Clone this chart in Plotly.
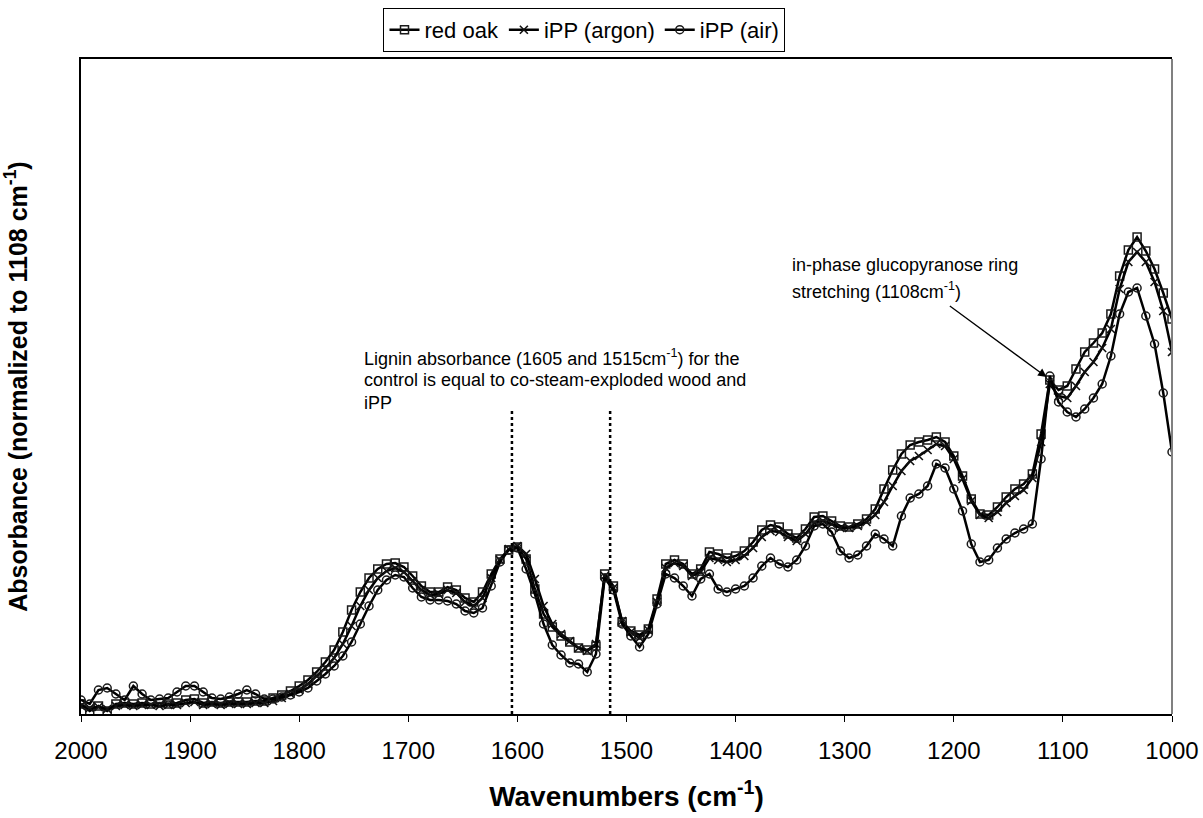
import plotly.graph_objects as go

# Wavenumbers (cm^-1), sampled every 8 cm^-1 from 2000 down to 1000
wavenumbers = list(range(2000, 999, -8))

# Relative absorbance (arbitrary units, normalized)
red_oak = [
    0.10, 0.03, 0.08, 0.03, 0.10, 0.11, 0.10, 0.11, 0.10, 0.11,
    0.10, 0.11, 0.14, 0.15, 0.11, 0.12, 0.11, 0.12, 0.12, 0.12,
    0.13, 0.13, 0.16, 0.19, 0.23, 0.28, 0.34, 0.42, 0.52, 0.64,
    0.82, 1.04, 1.22, 1.36, 1.45, 1.50, 1.51, 1.47, 1.38, 1.28,
    1.22, 1.22, 1.27, 1.24, 1.16, 1.12, 1.22, 1.40, 1.55, 1.64,
    1.67, 1.55, 1.25, 1.00, 0.87, 0.78, 0.72, 0.66, 0.64, 0.68,
    1.40, 1.28, 0.92, 0.83, 0.79, 0.85, 1.15, 1.50, 1.54, 1.50,
    1.40, 1.45, 1.62, 1.60, 1.56, 1.58, 1.63, 1.72, 1.84, 1.89,
    1.87, 1.80, 1.76, 1.85, 1.97, 1.98, 1.93, 1.88, 1.87, 1.90,
    1.95, 2.05, 2.25, 2.44, 2.60, 2.69, 2.72, 2.74, 2.77, 2.72,
    2.58, 2.38, 2.15, 2.00, 1.99, 2.07, 2.17, 2.25, 2.30, 2.40,
    2.80, 3.34, 3.24, 3.28, 3.45, 3.62, 3.71, 3.81, 4.00, 4.38,
    4.64, 4.77, 4.63, 4.45, 4.21, 3.95,
]

ipp_argon = [
    0.08, 0.06, 0.07, 0.05, 0.08, 0.09, 0.08, 0.09, 0.09, 0.08,
    0.09, 0.09, 0.11, 0.12, 0.09, 0.10, 0.09, 0.10, 0.10, 0.10,
    0.11, 0.11, 0.13, 0.16, 0.20, 0.24, 0.30, 0.38, 0.46, 0.56,
    0.70, 0.88, 1.08, 1.24, 1.36, 1.43, 1.46, 1.42, 1.33, 1.24,
    1.19, 1.20, 1.24, 1.21, 1.12, 1.08, 1.16, 1.36, 1.54, 1.65,
    1.68, 1.60, 1.35, 1.08, 0.90, 0.80, 0.73, 0.66, 0.63, 0.70,
    1.38, 1.26, 0.93, 0.82, 0.76, 0.84, 1.12, 1.46, 1.51, 1.48,
    1.38, 1.42, 1.56, 1.54, 1.52, 1.54, 1.58, 1.66, 1.77, 1.83,
    1.82, 1.77, 1.73, 1.80, 1.91, 1.93, 1.90, 1.86, 1.86, 1.88,
    1.92, 1.99, 2.12, 2.28, 2.43, 2.53, 2.58, 2.64, 2.70, 2.68,
    2.55, 2.35, 2.13, 1.99, 1.96, 2.02, 2.11, 2.18, 2.24, 2.36,
    2.72, 3.30, 3.18, 3.16, 3.28, 3.42, 3.52, 3.66, 3.85, 4.25,
    4.52, 4.62, 4.52, 4.32, 4.03, 3.62,
]

ipp_air = [
    0.14, 0.10, 0.24, 0.26, 0.20, 0.14, 0.28, 0.20, 0.14, 0.15,
    0.16, 0.22, 0.28, 0.28, 0.22, 0.16, 0.15, 0.17, 0.20, 0.24,
    0.20, 0.15, 0.15, 0.17, 0.19, 0.22, 0.26, 0.33, 0.40, 0.48,
    0.58, 0.72, 0.90, 1.08, 1.24, 1.34, 1.39, 1.37, 1.26, 1.17,
    1.14, 1.14, 1.13, 1.10, 1.03, 1.01, 1.06, 1.28, 1.52, 1.64,
    1.66, 1.45, 1.20, 0.90, 0.69, 0.59, 0.51, 0.50, 0.42, 0.60,
    1.36, 1.24, 0.90, 0.78, 0.67, 0.80, 1.10, 1.40, 1.36, 1.28,
    1.18, 1.35, 1.40, 1.25, 1.22, 1.25, 1.28, 1.36, 1.48, 1.56,
    1.50, 1.47, 1.54, 1.68, 1.88, 1.90, 1.82, 1.63, 1.56, 1.59,
    1.68, 1.80, 1.75, 1.68, 1.98, 2.16, 2.20, 2.28, 2.50, 2.46,
    2.25, 2.03, 1.70, 1.52, 1.54, 1.66, 1.75, 1.81, 1.85, 1.90,
    2.55, 3.38, 3.12, 3.02, 2.97, 3.05, 3.16, 3.30, 3.58, 4.00,
    4.22, 4.26, 3.98, 3.70, 3.21, 2.62,
]

x_ticks = [2000, 1900, 1800, 1700, 1600, 1500, 1400, 1300, 1200, 1100, 1000]
lignin_bands = [1605, 1515]

FONT = "Arial, Liberation Sans, sans-serif"

fig = go.Figure()
fig.add_trace(go.Scatter(
    x=wavenumbers, y=red_oak, name="red oak", mode="lines+markers",
    line=dict(color="black", width=2.5),
    marker=dict(symbol="square-open", size=8, color="#1a1a1a", line=dict(width=1.5)),
))
fig.add_trace(go.Scatter(
    x=wavenumbers, y=ipp_argon, name="iPP (argon)", mode="lines+markers",
    line=dict(color="black", width=2.5),
    marker=dict(symbol="x-thin", size=8, color="#111", line=dict(width=1.6, color="#111")),
))
fig.add_trace(go.Scatter(
    x=wavenumbers, y=ipp_air, name="iPP (air)", mode="lines+markers",
    line=dict(color="black", width=2.5),
    marker=dict(symbol="circle-open", size=8, color="#1a1a1a", line=dict(width=1.5)),
))

# dotted vertical lines at lignin bands
for wn in lignin_bands:
    fig.add_shape(type="line", xref="x", yref="y", x0=wn, x1=wn, y0=0, y1=3.04,
                  line=dict(color="black", width=2.5, dash="dot"))

# right border (gray)
fig.add_shape(type="line", xref="paper", yref="paper", x0=1, x1=1, y0=0, y1=1,
              line=dict(color="#808080", width=2))

anns = [
    dict(x=1742, y=3.57, text="Lignin absorbance (1605 and 1515cm<sup>-1</sup>) for the"),
    dict(x=1742, y=3.34, text="control is equal to co-steam-exploded wood and"),
    dict(x=1742, y=3.11, text="iPP"),
    dict(x=1350, y=4.49, text="in-phase glucopyranose ring"),
    dict(x=1350, y=4.24, text="stretching (1108cm<sup>-1</sup>)"),
]
for a in anns:
    fig.add_annotation(x=a["x"], y=a["y"], text=a["text"], xref="x", yref="y",
                       xanchor="left", yanchor="middle", showarrow=False,
                       font=dict(family=FONT, size=18, color="black"))

fig.add_annotation(x=1115, y=3.37, ax=1205, ay=4.09, xref="x", yref="y",
                   axref="x", ayref="y", text="", showarrow=True,
                   arrowhead=2, arrowsize=1.3, arrowwidth=1.3, arrowcolor="black")

fig.update_layout(
    width=1203, height=818,
    margin=dict(l=81, r=31, t=59, b=104, autoexpand=False),
    paper_bgcolor="white", plot_bgcolor="white",
    font=dict(family=FONT, color="black"),
    showlegend=True,
    legend=dict(orientation="h", x=0.4615, xanchor="center", y=1.078, yanchor="top",
                bordercolor="black", borderwidth=1, bgcolor="white",
                font=dict(family=FONT, size=22, color="black"),
                itemwidth=30, tracegroupgap=0),
    xaxis=dict(
        range=[2000, 1000], tickvals=x_ticks, ticktext=[str(v) for v in x_ticks],
        showgrid=False, zeroline=False, showline=True, linecolor="black", linewidth=1.5,
        mirror=True, ticks="outside", ticklen=6, tickcolor="black",
        ticklabelstandoff=8,
        tickfont=dict(family=FONT, size=24, color="black"),
        title=dict(text="<b>Wavenumbers (cm<sup>-1</sup>)</b>", standoff=24,
                   font=dict(family=FONT, size=28, color="black")),
    ),
    yaxis=dict(
        range=[0, 6.55], showticklabels=False, showgrid=False, zeroline=False,
        showline=True, linecolor="black", linewidth=1.5, ticks="",
        title=dict(text="<b>Absorbance (normalized to 1108 cm<sup>-1</sup>)</b>", standoff=45,
                   font=dict(family=FONT, size=25, color="black")),
    ),
)

fig.write_html("out.html")
